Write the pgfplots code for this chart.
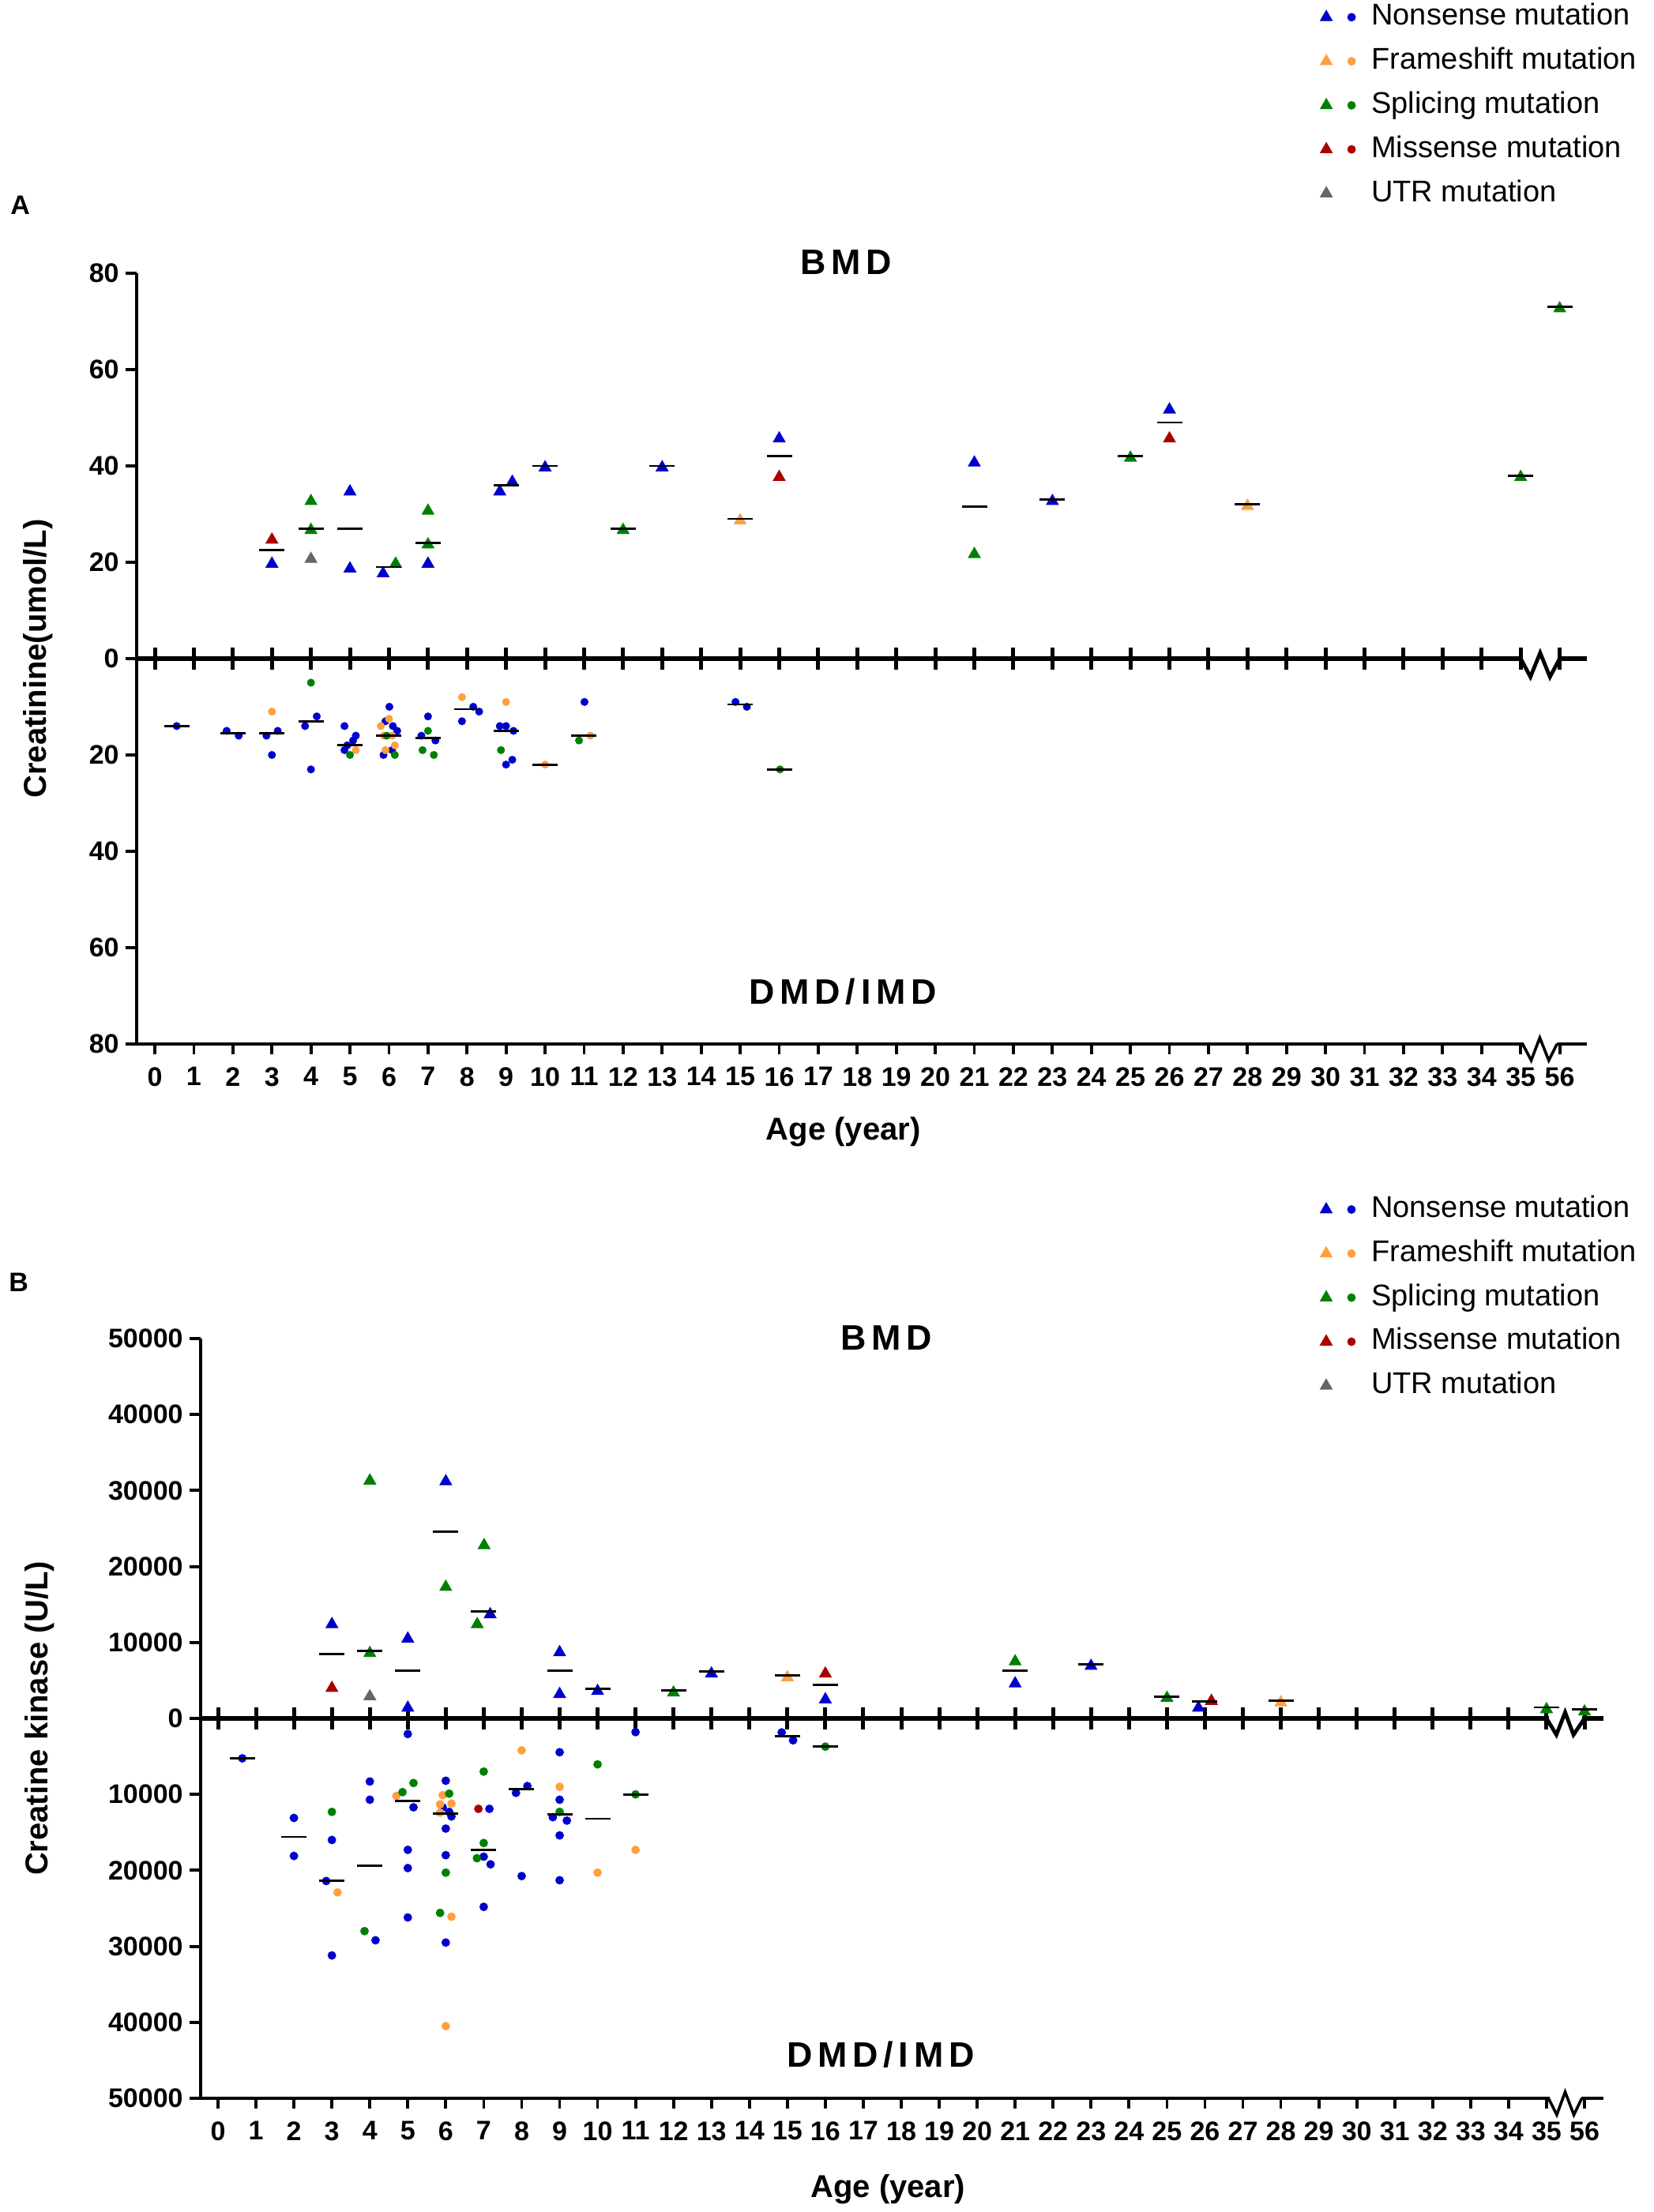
\documentclass[border=0pt]{standalone}
\usepackage{fontspec}
\setmainfont{Liberation Sans}
\newfontfamily\spaced[LetterSpace=15]{Liberation Sans}
\usepackage{pgfplots}
\pgfplotsset{compat=1.18}

\definecolor{cNon}{RGB}{0,0,204}
\definecolor{cFra}{RGB}{255,160,64}
\definecolor{cSpl}{RGB}{0,128,0}
\definecolor{cMis}{RGB}{170,0,0}
\definecolor{cUTR}{RGB}{102,102,102}

\newcommand\tickfont{\bfseries\fontsize{8.5}{10}\selectfont}
\newcommand\labfont{\bfseries\fontsize{10}{12}\selectfont}
\newcommand\legfont{\fontsize{9.5}{11}\selectfont}
\newcommand\titfont{\spaced\bfseries\fontsize{11.2}{13}\selectfont}
\newcommand\letfont{\bfseries\fontsize{8.5}{10}\selectfont}

\newcommand\legTD[1]{%
  \path[draw=none,fill=none] (0pt,-4pt) rectangle (16.8pt,4pt);
  \draw plot[mark=triangle*, mark size=2.1pt, mark options={draw=#1,fill=#1,line width=0.3pt}] coordinates {(2.5pt,0pt)};
  \draw plot[mark=*, mark size=1.2pt, mark options={draw=#1,fill=#1,line width=0.3pt}] coordinates {(10.5pt,0pt)};}
\newcommand\legT[1]{%
  \path[draw=none,fill=none] (0pt,-4pt) rectangle (16.8pt,4pt);
  \draw plot[mark=triangle*, mark size=2.1pt, mark options={draw=#1,fill=#1,line width=0.3pt}] coordinates {(2.5pt,0pt)};}

\pgfplotsset{
  geomA/.style={scale only axis, width=459pt, height=244pt, xmin=-0.466, xmax=36.7, ymin=-80, ymax=80, at={(43.25pt,369.75pt)}, anchor=south west},
  geomB/.style={scale only axis, width=444pt, height=240.5pt, xmin=-0.458, xmax=36.5, ymin=-50000, ymax=50000, at={(63.5pt,36pt)}, anchor=south west},
  tri/.style={only marks, mark=triangle*, mark size=2.1pt, mark options={draw=#1, fill=#1, line width=0.3pt, yshift=-0.5pt}, forget plot},
  dotA/.style={only marks, mark=*, mark size=1.1pt, mark options={draw=#1, fill=#1, line width=0.3pt}, forget plot},
  dotB/.style={only marks, mark=*, mark size=1.2pt, mark options={draw=#1, fill=#1, line width=0.3pt}, forget plot},
  med/.style={only marks, mark=-, mark size=4pt, mark options={draw=black, line width=0.7pt}, forget plot},
  yax/.style={axis x line=none, axis y line=left, axis line style={-, line width=1.2pt}, tick align=outside, major tick length=3.6pt, tick style={black, line width=1pt}, yticklabel style={font=\tickfont, inner sep=1.8pt}, ylabel style={font=\labfont, anchor=center}},
  mid/.style={axis x line=middle, axis y line=none, axis line style={-, line width=1.4pt}, xtick={0,...,36}, xticklabel=\empty, ytick=\empty, tick align=center, major tick length=6.9pt, tick style={black, line width=1.25pt}},
  bot/.style={axis x line=bottom, axis y line=none, axis line style={-, line width=0.9pt}, xtick={0,...,36}, xticklabels={0,1,2,3,4,5,6,7,8,9,10,11,12,13,14,15,16,17,18,19,20,21,22,23,24,25,26,27,28,29,30,31,32,33,34,35,56}, ytick=\empty, tick align=outside, major tick length=3.3pt, tick style={black, line width=0.95pt}, xticklabel style={font=\tickfont, inner sep=1.5pt, yshift=-2.4pt}, xlabel style={font=\labfont, anchor=center}},
  leg/.style={legend cell align=left, legend style={draw=none, fill=none, inner sep=0pt, outer sep=0pt, row sep=4.95pt, font=\legfont, anchor=north west, nodes={inner sep=0pt, text height=7pt, text depth=2pt}}},
}

\begin{document}
\begin{tikzpicture}
\path[use as bounding box] (0,0) rectangle (523.25pt,700.25pt);

% ================= Panel A =================
\begin{axis}[geomA, yax, ytick={-80,-60,-40,-20,0,20,40,60,80}, yticklabels={80,60,40,20,0,20,40,60,80},
  ylabel={Creatinine(umol/L)}, ylabel style={at={(axis description cs:-0.0681,0.5)}}]
\end{axis}
\begin{axis}[geomA, mid]
\end{axis}
\begin{axis}[geomA, bot, xlabel={Age (year)}, xlabel style={at={(axis description cs:0.4873,-0.1137)}}]
\end{axis}
\begin{axis}[geomA, hide axis, clip=false, leg, legend style={at={(axis description cs:0.8148,1.3506)}}]
% BMD (triangles)
\addplot[tri=cNon] coordinates {(3,20) (5,35) (5,19) (5.85,18) (7,20) (8.84,35) (9.16,37) (10,40) (13,40) (16,46) (21,41) (23,33) (26,52)};
\addplot[tri=cFra] coordinates {(15,29) (28,32)};
\addplot[tri=cSpl] coordinates {(4,33) (4,27) (6.17,20) (7,31) (7,24) (12,27) (21,22) (25,42) (35,38) (36,73)};
\addplot[tri=cMis] coordinates {(3,25) (16,38) (26,46)};
\addplot[tri=cUTR] coordinates {(4,21)};
% DMD/IMD (dots, plotted downward)
\addplot[dotA=cNon] coordinates {(0.56,-14) (1.84,-15) (2.15,-16) (2.86,-16) (3.15,-15) (3,-20) (4.15,-12) (3.85,-14) (4,-23)
  (4.86,-14) (5.15,-16) (5.08,-17) (4.93,-18) (4.86,-19) (6.01,-10) (5.91,-13) (6.1,-14) (6.21,-15) (6.08,-19) (5.86,-20)
  (7,-12) (6.83,-16) (7.19,-17) (8.16,-10) (8.31,-11) (7.87,-13) (8.84,-14) (9,-14) (9.19,-15) (9.16,-21) (9,-22) (11.01,-9) (14.88,-9) (15.17,-10)};
\addplot[dotA=cFra] coordinates {(3,-11) (5.15,-19) (6,-12.5) (5.79,-14) (5.87,-16) (6.08,-16) (6.15,-18) (5.91,-19) (7.87,-8) (9,-9) (10,-22) (11.16,-16)};
\addplot[dotA=cSpl] coordinates {(4,-5) (5,-20) (5.94,-16) (6.15,-20) (7,-15) (6.86,-19) (7.15,-20) (8.87,-19) (10.87,-17) (16.02,-23)};
% medians
\addplot[med] coordinates {(3,22.5) (4,27) (5,27) (6,19) (7,24) (9,36) (10,40) (12,27) (13,40) (15,29) (16,42) (21,31.5) (23,33) (25,42) (26,49) (28,32) (35,38) (36,73)};
\addplot[med] coordinates {(0.56,-14) (2,-15.5) (3,-15.5) (4,-13) (5,-18) (6,-16) (7,-16.5) (8,-10.5) (9,-15) (10,-22) (11,-16) (15,-9.5) (16,-23)};
% legend
\addlegendimage{legend image code/.code={\legTD{cNon}}}\addlegendentry{Nonsense mutation}
\addlegendimage{legend image code/.code={\legTD{cFra}}}\addlegendentry{Frameshift mutation}
\addlegendimage{legend image code/.code={\legTD{cSpl}}}\addlegendentry{Splicing mutation}
\addlegendimage{legend image code/.code={\legTD{cMis}}}\addlegendentry{Missense mutation}
\addlegendimage{legend image code/.code={\legT{cUTR}}}\addlegendentry{UTR mutation}
% titles
\node[font=\titfont] at (axis description cs:0.4894,1.0143) {BMD};
\node[font=\titfont] at (axis description cs:0.487,0.0676) {DMD/IMD};
% axis breaks
\fill[white] (axis cs:35.06,-1) rectangle (axis cs:35.94,1);
\draw[line width=1.2pt, line join=miter] (axis cs:35,0) -- (axis cs:35.25,-3.8) -- (axis cs:35.5,1.2) -- (axis cs:35.75,-3.8) -- (axis cs:36,0);
\fill[white] (axis cs:35.08,-81) rectangle (axis cs:35.92,-79);
\draw[line width=0.9pt, line join=miter] (axis cs:35.05,-80) -- (axis cs:35.27,-83.4) -- (axis cs:35.49,-78.7) -- (axis cs:35.72,-83.4) -- (axis cs:35.93,-80);
\end{axis}
\node[font=\letfont] at (6.4pt,635.25pt) {A};

% ================= Panel B =================
\begin{axis}[geomB, yax, ytick={-50000,-40000,-30000,-20000,-10000,0,10000,20000,30000,40000,50000},
  yticklabels={50000,40000,30000,20000,10000,0,10000,20000,30000,40000,50000}, scaled y ticks=false,
  ylabel={Creatine kinase (U/L)}, ylabel style={at={(axis description cs:-0.1149,0.5)}}]
\end{axis}
\begin{axis}[geomB, mid]
\end{axis}
\begin{axis}[geomB, bot, xlabel={Age (year)}, xlabel style={at={(axis description cs:0.49,-0.1195)}}]
\end{axis}
\begin{axis}[geomB, hide axis, clip=false, leg, legend style={at={(axis description cs:0.7967,1.1886)}}]
% BMD (triangles)
\addplot[tri=cNon] coordinates {(3,12600) (5,10700) (5,1600) (6,31400) (7.17,13900) (9,8900) (9,3400) (10,3800) (13,6100) (16,2700) (21,4800) (23,7100) (25.83,1600)};
\addplot[tri=cFra] coordinates {(15,5600) (28,2300)};
\addplot[tri=cSpl] coordinates {(4,31500) (4,8800) (6,17500) (7.01,23000) (6.83,12600) (12,3600) (21,7700) (25,2900) (35,1400) (36,1100)};
\addplot[tri=cMis] coordinates {(3,4200) (16,6100) (26.17,2500)};
\addplot[tri=cUTR] coordinates {(4,3100)};
% DMD/IMD (dots, plotted downward)
\addplot[dotB=cNon] coordinates {(0.64,-5250) (2,-13100) (2,-18100) (3,-16000) (2.85,-21400) (3,-31200) (4,-8300) (4,-10700) (4.15,-29200)
  (5,-2050) (5.15,-11700) (5,-17300) (5,-19700) (5,-26200) (6,-8200) (5.92,-11700) (6.09,-12300) (6.15,-12900) (6,-14500) (6,-18000) (6,-29500)
  (7.15,-11900) (7,-18200) (7.18,-19200) (7,-24800) (7.85,-9800) (8.15,-8900) (8,-20750)
  (9,-4450) (9,-10700) (8.82,-13000) (9.19,-13450) (9,-15400) (9,-21300) (11,-1800) (14.85,-1840) (15.15,-2880)};
\addplot[dotB=cFra] coordinates {(3.15,-22900) (4.7,-10200) (5.92,-10100) (5.85,-11300) (6.15,-11200) (5.85,-12400) (6.15,-26100) (6,-40500) (8,-4200) (9,-9000) (10,-20300) (11,-17300)};
\addplot[dotB=cSpl] coordinates {(3,-12300) (3.86,-28000) (5.15,-8500) (4.86,-9700) (6.09,-9900) (6,-20300) (5.85,-25600) (7,-7000) (7,-16400) (6.82,-18400) (9,-12300) (10,-6050) (11,-10000) (16,-3710)};
\addplot[dotB=cMis] coordinates {(6.86,-11900)};
% medians
\addplot[med] coordinates {(3,8480) (4,8850) (5,6250) (6,24600) (7,14100) (9,6280) (10,3900) (12,3700) (13,6200) (15,5700) (16,4450) (21,6250) (23,7150) (25,2900) (26,2200) (28,2350) (35,1450) (36,1200)};
\addplot[med] coordinates {(0.64,-5250) (2,-15600) (3,-21400) (4,-19350) (5,-10900) (6,-12550) (7,-17300) (8,-9300) (9,-12600) (10,-13200) (11,-10000) (15,-2360) (16,-3710)};
% legend
\addlegendimage{legend image code/.code={\legTD{cNon}}}\addlegendentry{Nonsense mutation}
\addlegendimage{legend image code/.code={\legTD{cFra}}}\addlegendentry{Frameshift mutation}
\addlegendimage{legend image code/.code={\legTD{cSpl}}}\addlegendentry{Splicing mutation}
\addlegendimage{legend image code/.code={\legTD{cMis}}}\addlegendentry{Missense mutation}
\addlegendimage{legend image code/.code={\legT{cUTR}}}\addlegendentry{UTR mutation}
% titles
\node[font=\titfont] at (axis description cs:0.4887,1.001) {BMD};
\node[font=\titfont] at (axis description cs:0.4848,0.0572) {DMD/IMD};
% axis breaks
\fill[white] (axis cs:35.06,-600) rectangle (axis cs:35.94,600);
\draw[line width=1.2pt, line join=miter] (axis cs:35,0) -- (axis cs:35.26,-2150) -- (axis cs:35.49,800) -- (axis cs:35.71,-2150) -- (axis cs:36,0);
\fill[white] (axis cs:35.08,-50600) rectangle (axis cs:35.92,-49400);
\draw[line width=0.9pt, line join=miter] (axis cs:35.05,-50000) -- (axis cs:35.27,-52180) -- (axis cs:35.49,-49170) -- (axis cs:35.72,-52180) -- (axis cs:35.93,-50000);
\end{axis}
\node[font=\letfont] at (5.9pt,294.25pt) {B};
\end{tikzpicture}
\end{document}
